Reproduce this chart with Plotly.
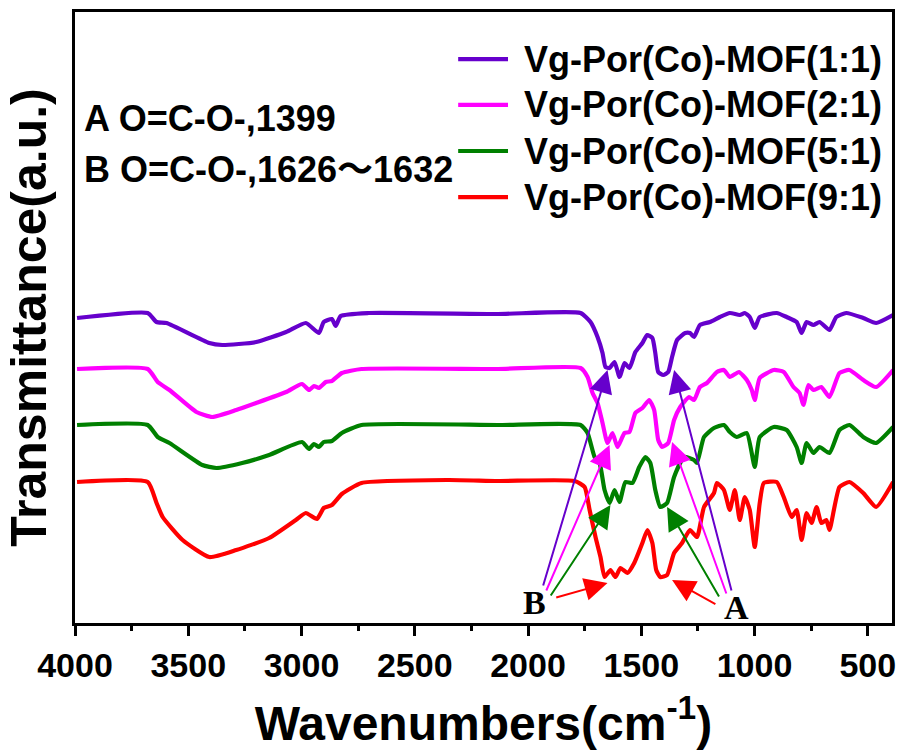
import plotly.graph_objects as go

# ---------------- data ----------------
series_names = ["Vg-Por(Co)-MOF(1:1)", "Vg-Por(Co)-MOF(2:1)",
                "Vg-Por(Co)-MOF(5:1)", "Vg-Por(Co)-MOF(9:1)"]
series_colors = ["#6600CC", "#FF00FF", "#008000", "#FF0000"]

wn_11 = [3991, 3679, 3640, 3596, 3407, 3350, 3200, 3068, 2981, 2923, 2902, 2866, 2849, 2827, 2704,
         2133, 1768, 1724, 1693, 1671, 1658, 1640, 1618, 1596, 1574, 1552, 1526, 1495, 1474, 1451,
         1438, 1425, 1403, 1381, 1364, 1342, 1306, 1285, 1267, 1241, 1197, 1153, 1109, 1065, 1043,
         1021, 999, 977, 902, 858, 814, 792, 770, 740, 713, 669, 639, 595, 520, 463, 388]
t_11 = [30.5, 31.0, 30.1, 30.0, 28.0, 27.8, 28.1, 29.1, 30.0, 29.0, 30.1, 30.4, 29.7, 30.7, 31.0,
        30.9, 31.0, 30.1, 28.6, 27.0, 25.6, 25.5, 26.1, 24.6, 26.0, 25.5, 27.1, 28.0, 28.8, 28.5,
        27.0, 25.1, 24.8, 25.1, 26.6, 28.3, 29.0, 29.0, 28.6, 29.8, 30.1, 30.6, 31.0, 30.8, 31.0,
        30.6, 29.5, 30.6, 31.0, 30.6, 30.1, 29.0, 30.1, 29.8, 30.1, 29.3, 30.6, 31.0, 30.5, 30.0, 30.8]

wn_21 = [3991, 3679, 3635, 3583, 3464, 3394, 3288, 3200, 3068, 2998, 2967, 2945, 2923, 2893, 2866,
         2822, 2735, 2133, 1768, 1737, 1715, 1693, 1671, 1649, 1627, 1605, 1574, 1552, 1526, 1495,
         1465, 1443, 1425, 1408, 1381, 1355, 1328, 1289, 1267, 1241, 1210, 1166, 1135, 1109, 1069,
         1034, 1012, 999, 977, 915, 871, 828, 801, 784, 762, 740, 705, 669, 625, 581, 520, 463, 388]
t_21 = [25.4, 25.4, 24.1, 23.3, 21.1, 20.6, 21.3, 22.0, 23.1, 23.9, 23.3, 23.7, 23.5, 24.1, 24.2,
        25.0, 25.4, 25.4, 25.5, 24.6, 23.0, 22.0, 20.0, 18.0, 19.0, 17.6, 19.0, 19.1, 21.0, 21.5,
        22.3, 21.3, 18.3, 17.6, 18.0, 20.3, 21.6, 22.6, 22.3, 23.6, 24.0, 25.1, 25.3, 24.6, 25.1,
        24.3, 23.3, 22.3, 24.5, 25.3, 25.1, 23.6, 23.0, 21.8, 23.8, 23.3, 23.6, 22.6, 25.0, 25.3,
        24.3, 23.6, 25.3]

wn_51 = [3991, 3679, 3635, 3583, 3438, 3376, 3262, 3143, 2998, 2967, 2945, 2923, 2902, 2866, 2822,
         2735, 2133, 1768, 1737, 1706, 1684, 1662, 1640, 1618, 1596, 1570, 1539, 1509, 1482, 1460,
         1438, 1416, 1386, 1355, 1311, 1267, 1254, 1223, 1179, 1135, 1109, 1078, 1034, 999, 977,
         915, 858, 814, 792, 770, 740, 713, 669, 625, 581, 520, 463, 388]
t_51 = [19.8, 19.8, 18.6, 18.0, 15.8, 15.5, 16.0, 16.8, 18.1, 17.4, 17.9, 17.6, 18.1, 18.2, 19.0,
        19.8, 19.8, 19.8, 19.0, 16.6, 16.0, 13.3, 12.0, 13.3, 12.1, 14.1, 14.0, 15.6, 16.6, 16.0,
        13.3, 11.6, 12.0, 14.6, 16.6, 16.3, 16.0, 18.6, 19.5, 19.8, 19.1, 18.6, 19.0, 15.6, 18.6,
        19.6, 19.3, 17.6, 16.0, 18.0, 17.0, 17.6, 17.0, 19.3, 19.8, 18.6, 18.0, 19.6]

wn_91 = [3991, 3679, 3640, 3613, 3525, 3407, 3288, 3143, 3025, 2981, 2932, 2902, 2866, 2822, 2735,
         2352, 2133, 1794, 1750, 1728, 1702, 1680, 1662, 1636, 1614, 1592, 1561, 1531, 1495, 1473,
         1451, 1434, 1416, 1386, 1355, 1320, 1285, 1254, 1223, 1179, 1166, 1135, 1109, 1087, 1065,
         1043, 1021, 999, 977, 959, 902, 871, 836, 814, 792, 770, 748, 726, 705, 683, 669, 625, 581,
         520, 463, 388]
t_91 = [14.1, 14.1, 12.0, 10.6, 8.3, 6.6, 7.3, 8.5, 10.3, 11.0, 10.4, 11.5, 11.8, 12.9, 14.0,
        14.3, 14.2, 14.2, 13.6, 11.3, 8.6, 6.6, 4.6, 5.3, 4.6, 5.5, 5.0, 6.0, 8.0, 9.3,
        8.0, 5.3, 4.6, 4.8, 7.0, 8.0, 9.3, 8.6, 11.6, 13.0, 14.0, 13.3, 11.3, 13.3, 10.3,
        12.6, 11.3, 7.6, 12.0, 14.0, 14.1, 12.6, 10.6, 11.3, 8.3, 11.0, 10.0, 11.6, 10.0, 10.3,
        9.3, 13.6, 14.1, 13.0, 11.6, 14.1]

series_wn = [wn_11, wn_21, wn_51, wn_91]
series_t = [t_11, t_21, t_51, t_91]

# peak assignment arrows (B: 1626~1632, A: 1399)
arrow_b_tip_wn = [1649, 1640, 1636, 1649]
arrow_b_tip_t = [25.3, 17.8, 11.8, 4.0]
arrow_b_tail_wn = [1935, 1922, 1904, 1882]
arrow_b_tail_t = [3.6, 3.1, 2.6, 2.5]
arrow_a_tip_wn = [1355, 1364, 1386, 1364]
arrow_a_tip_t = [25.3, 18.1, 11.6, 4.3]
arrow_a_tail_wn = [1100, 1122, 1153, 1166]
arrow_a_tail_t = [3.1, 2.8, 2.5, 1.8]
label_b = ("B", 1970, 2.1)
label_a = ("A", 1078, 1.6)

note_lines = ["A O=C-O-,1399", "B O=C-O-,1626～1632"]

x_ticks = [4000, 3500, 3000, 2500, 2000, 1500, 1000, 500]
x_range = [4000, 393]
y_range = [0, 61.1]

# ---------------- figure ----------------
SANS = "Liberation Sans, Arial, Noto Sans CJK SC, sans-serif"
SERIF = "Liberation Serif, Times New Roman, serif"

fig = go.Figure()
for name, col, wn, t in zip(series_names, series_colors, series_wn, series_t):
    fig.add_trace(go.Scatter(x=wn, y=t, mode="lines", name=name,
                             line=dict(color=col, width=4.2, shape="spline", smoothing=0.5),
                             showlegend=False))

annotations = []
# arrows
for tips_wn, tips_t, tails_wn, tails_t in [
        (arrow_b_tip_wn, arrow_b_tip_t, arrow_b_tail_wn, arrow_b_tail_t),
        (arrow_a_tip_wn, arrow_a_tip_t, arrow_a_tail_wn, arrow_a_tail_t)]:
    for col, xw, yt, axw, ayt in zip(series_colors, tips_wn, tips_t, tails_wn, tails_t):
        annotations.append(dict(x=xw, y=yt, ax=axw, ay=ayt, xref="x", yref="y",
                                axref="x", ayref="y", text="", showarrow=True,
                                arrowhead=2, arrowsize=2.3, arrowwidth=2, arrowcolor=col,
                                standoff=0, startstandoff=0))
for txt, xw, yt in [label_b, label_a]:
    annotations.append(dict(x=xw, y=yt, xref="x", yref="y", text=txt, showarrow=False,
                            font=dict(family=SERIF, size=34, color="black", weight="bold"),
                            xanchor="center", yanchor="middle"))

# notes at upper left
note_y = [0.8265, 0.743]
for txt, yy in zip(note_lines, note_y):
    annotations.append(dict(x=0.0085, y=yy, xref="paper", yref="paper", text=txt,
                            showarrow=False, xanchor="left", yanchor="middle",
                            font=dict(family=SANS, size=36, color="black", weight="bold")))

# legend drawn as sample lines plus labels
leg_y = [0.923, 0.848, 0.7725, 0.697]
shapes = []
for name, col, yy in zip(series_names, series_colors, leg_y):
    shapes.append(dict(type="line", xref="paper", yref="paper", x0=0.469, x1=0.530,
                       y0=yy, y1=yy, line=dict(color=col, width=4.2)))
    annotations.append(dict(x=0.547, y=yy, xref="paper", yref="paper", text=name,
                            showarrow=False, xanchor="left", yanchor="middle",
                            font=dict(family=SANS, size=36, color="black", weight="bold")))

fig.update_layout(
    width=905, height=755,
    margin=dict(l=75, r=9, t=12, b=132),
    paper_bgcolor="white", plot_bgcolor="white",
    annotations=annotations, shapes=shapes,
    xaxis=dict(range=x_range, tickvals=x_ticks, ticktext=[str(v) for v in x_ticks],
               ticks="outside", ticklen=10, tickwidth=2.5, tickcolor="black",
               minor=dict(dtick=250, ticks="outside", ticklen=5, tickwidth=2.5, tickcolor="black"),
               showline=True, linecolor="black", linewidth=2.5, mirror=True,
               showgrid=False, zeroline=False,
               tickfont=dict(family=SANS, size=34, color="black", weight="bold"),
               title=dict(text="Wavenumbers(cm<sup>-1</sup>)", standoff=24,
                          font=dict(family=SANS, size=48, color="black", weight="bold"))),
    yaxis=dict(range=y_range, showticklabels=False, ticks="",
               showline=True, linecolor="black", linewidth=2.5, mirror=True,
               showgrid=False, zeroline=False,
               title=dict(text="Transmittance(a.u.)", standoff=10,
                          font=dict(family=SANS, size=50, color="black", weight="bold"))),
)

fig.write_html("out.html")
